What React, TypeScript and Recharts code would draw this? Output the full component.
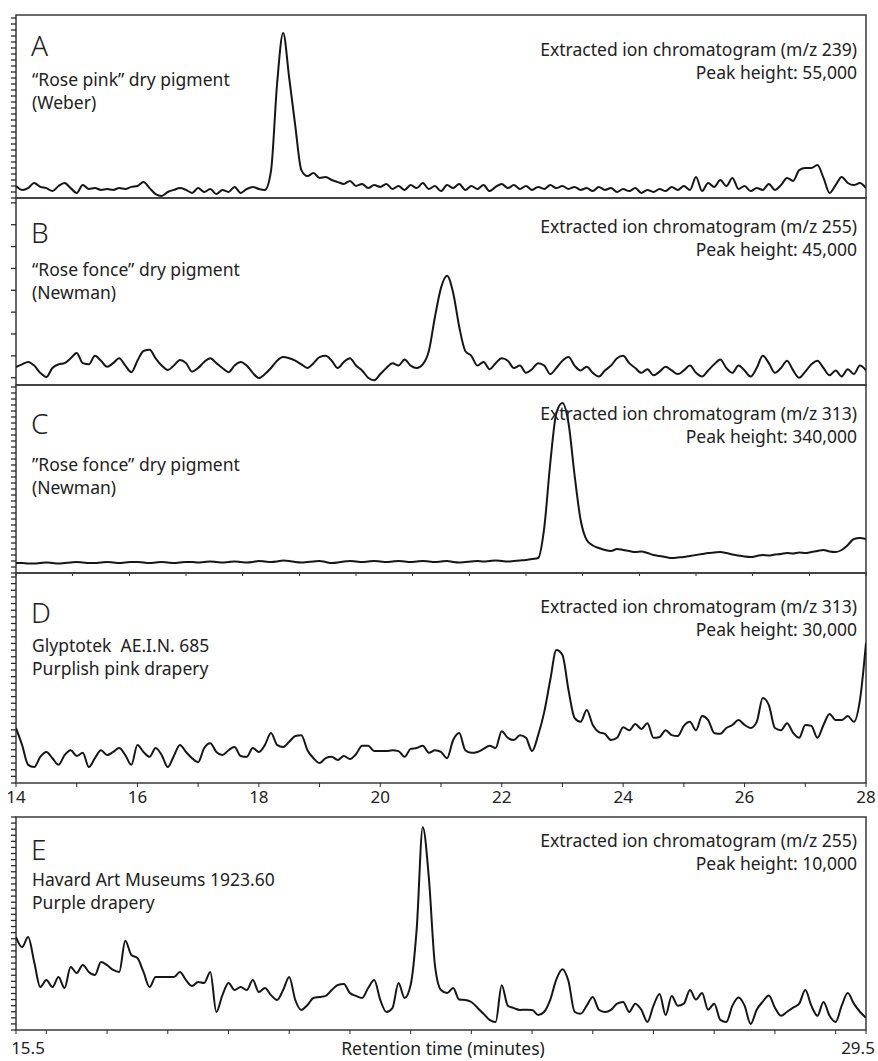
import React from 'react';
import { LineChart, Line, XAxis, YAxis, ReferenceArea } from 'recharts';

const FONT = '"Noto Sans", "Open Sans", sans-serif';
const INK = '#161616';
const FRAME = '#3a3a3a';
const TICK = '#2a2a2a';
const TEXT = '#222';
const NOTE_SIZE = 17.5;

// retention time grid, one sample every 0.1 min
const gridTimes = (start: number, n: number) =>
  Array.from({ length: n }, (_, i) => Math.round((start + i * 0.1) * 10) / 10);
const TIMES_AD = gridTimes(14, 141);
const TIMES_E = gridTimes(15.5, 141);

// intensities, thousands of counts
const SERIES_A = [
  4.0, 2.7, 3.3, 5.0, 3.7, 3.3, 2.3, 4.0, 5.0, 3.3,
  1.7, 4.3, 3.0, 3.3, 2.7, 3.0, 2.7, 3.3, 3.0, 3.7,
  4.0, 5.3, 3.3, 1.3, 0.7, 2.0, 2.7, 3.3, 2.7, 1.7,
  3.3, 2.0, 3.0, 1.3, 2.7, 2.0, 3.7, 1.7, 3.0, 3.7,
  3.0, 2.7, 9.0, 38, 55, 40, 24, 9.3, 7.3, 8.3,
  6.7, 7.0, 6.0, 5.3, 4.7, 5.7, 4.0, 4.7, 3.3, 4.3,
  3.7, 4.7, 3.0, 4.0, 2.7, 4.3, 3.3, 5.0, 3.0, 4.0,
  2.3, 4.3, 3.3, 4.7, 2.7, 4.0, 3.0, 4.3, 2.3, 3.7,
  4.7, 3.3, 4.3, 3.0, 4.0, 2.7, 3.7, 3.0, 4.3, 3.3,
  4.0, 3.0, 3.7, 2.7, 3.3, 2.3, 3.7, 2.7, 3.3, 2.0,
  3.0, 2.3, 3.3, 1.7, 2.7, 2.0, 3.0, 2.3, 3.7, 2.7,
  4.0, 2.7, 7.0, 2.3, 5.0, 3.7, 6.0, 4.0, 6.7, 3.0,
  4.0, 2.3, 3.3, 2.7, 4.7, 2.7, 4.3, 6.7, 5.7, 9.3,
  10, 10, 11, 6.7, 1.7, 4.3, 7.0, 5.0, 4.3, 5.0,
  3.3,
];

const SERIES_B = [
  7.4, 8.5, 9.5, 8, 5, 3.3, 7, 8.5, 9, 11,
  13.2, 9, 8.5, 12, 10, 7.5, 9, 11, 8, 5.3,
  10, 14, 14.5, 11, 8, 6.2, 8, 10.3, 9, 5.5,
  7, 9.5, 11, 9, 7, 5.3, 8, 9.5, 8, 5,
  2.9, 4.5, 7, 10, 11.5, 11, 10, 8.5, 7, 9,
  11.5, 12, 10, 7, 9.5, 11, 8, 6, 3, 2,
  4.5, 7, 9, 8, 10.5, 8, 7, 8.5, 14, 28,
  40, 45, 38, 24, 14, 12, 8, 9.5, 6.5, 9,
  11, 10, 7, 8, 5, 6.5, 9, 8, 4.5, 7,
  10, 11.5, 8, 6, 7.5, 5, 3.5, 6, 8, 11,
  12, 9, 7, 5, 6.5, 4, 5.5, 7.5, 6, 4.5,
  6, 8, 5, 3.5, 6, 8.5, 10.5, 7, 5, 8,
  6, 3.5, 7, 12, 9, 5, 7, 10, 6, 3,
  5.5, 8.5, 10, 7, 4, 6, 3.5, 6.5, 4.5, 8,
  6,
];

const SERIES_C = [
  20, 20, 19, 19, 20, 21, 20, 19, 20, 21,
  22, 21, 20, 20, 21, 22, 21, 20, 21, 22,
  22, 21, 20, 21, 22, 21, 20, 21, 22, 22,
  21, 22, 23, 22, 21, 22, 23, 22, 21, 22,
  24, 23, 22, 23, 25, 24, 22, 21, 22, 23,
  24, 22, 20, 21, 23, 24, 23, 22, 23, 24,
  23, 22, 23, 24, 23, 22, 23, 24, 23, 22,
  23, 24, 22, 21, 22, 23, 24, 23, 24, 25,
  24, 23, 24, 25, 26, 28, 30, 90, 220, 320,
  340, 300, 196, 106, 66, 55, 50, 46, 44, 48,
  46, 44, 42, 43, 40, 36, 34, 32, 30, 31,
  32, 34, 36, 38, 40, 41, 42, 40, 37, 35,
  33, 32, 34, 36, 35, 37, 38, 40, 39, 41,
  40, 42, 44, 46, 43, 42, 46, 56, 68, 70,
  68,
];

const SERIES_D = [
  12.4, 8.6, 4.1, 3.6, 5.9, 7.0, 5.6, 4.1, 6.3, 7.4,
  6.1, 6.8, 3.6, 5.6, 7.4, 6.3, 7.0, 7.9, 6.3, 4.1,
  8.6, 7.0, 5.9, 7.9, 6.3, 3.6, 6.1, 8.6, 7.0, 5.6,
  4.7, 7.9, 9.0, 7.0, 6.3, 7.4, 8.1, 6.1, 5.9, 7.9,
  7.0, 8.6, 11.3, 8.6, 8.1, 9.3, 10.6, 10.8, 7.4, 5.6,
  4.5, 5.6, 5.9, 5.2, 6.1, 5.4, 6.5, 8.4, 8.4, 7.2,
  7.2, 7.2, 7.4, 7.2, 5.9, 7.7, 7.9, 8.4, 6.8, 7.4,
  7.0, 5.6, 9.7, 11.3, 7.4, 6.8, 7.0, 7.7, 8.4, 7.9,
  11.7, 10.2, 9.7, 10.8, 10.2, 7.2, 10.8, 16.0, 23.3, 30.0,
  28.9, 21.0, 14.7, 13.8, 16.5, 13.1, 11.5, 11.1, 9.7, 10.2,
  12.6, 11.9, 13.3, 12.2, 13.5, 10.2, 10.4, 11.9, 10.8, 10.6,
  12.9, 13.8, 11.9, 15.1, 14.2, 11.3, 11.1, 12.4, 13.1, 14.2,
  13.1, 12.4, 13.8, 19.2, 17.6, 12.4, 11.9, 13.5, 11.3, 10.2,
  13.1, 12.9, 10.2, 13.1, 15.6, 14.2, 14.2, 15.1, 13.8, 18.7,
  31.6,
];

const SERIES_E = [
  4.58, 4.09, 4.58, 3.35, 2.12, 2.46, 2.12, 2.61, 2.07, 3.1,
  2.81, 3.2, 2.86, 2.71, 3.35, 3.2, 2.96, 2.86, 4.4, 3.7,
  3.55, 2.86, 2.12, 2.61, 2.61, 2.61, 2.61, 2.86, 2.46, 2.17,
  2.37, 2.32, 2.86, 0.89, 1.72, 2.32, 1.97, 2.12, 1.97, 2.46,
  1.87, 2.07, 1.72, 1.48, 1.97, 2.61, 1.48, 0.99, 1.23, 1.58,
  1.63, 1.68, 1.97, 2.22, 2.27, 1.82, 1.68, 1.58, 2.07, 2.46,
  1.48, 0.89, 1.08, 2.32, 1.58, 2.22, 5.0, 10.0, 7.5, 3.2,
  1.97, 1.82, 2.07, 1.5, 1.48, 1.38, 1.1, 0.8, 0.5, 0.4,
  2.2, 1.2, 1.08, 0.99, 1.0, 0.99, 0.74, 0.9, 1.5, 2.5,
  3.0, 2.4, 0.9, 0.8, 1.2, 1.63, 1.0, 0.89, 0.99, 1.3,
  1.38, 0.89, 1.3, 1.0, 0.4, 1.2, 1.78, 0.74, 1.68, 1.2,
  1.3, 1.97, 1.5, 1.82, 1.0, 1.3, 0.5, 0.4, 1.2, 1.6,
  1.2, 0.3, 1.0, 1.4, 1.7, 1.1, 0.7, 0.9, 1.1, 1.3,
  1.97, 1.2, 0.7, 1.38, 0.7, 0.4, 1.2, 1.82, 1.3, 0.9,
  0.6,
];

// minor ticks on the intensity axes (no labels)
const A_Y_TICKS = [0, 2, 4, 6, 8, 10, 12, 14, 16, 18, 20, 22, 24, 26, 28, 30, 32, 34, 36, 38, 40, 42, 44, 46, 48, 50, 52, 54, 56, 58, 60];
const B_Y_TICKS = [3, 12, 21, 30, 39, 48, 57, 66, 75];
const C_Y_TICKS = [0, 12, 24, 36, 48, 60, 72, 84, 96, 108, 120, 132, 144, 156, 168, 180, 192, 204, 216, 228, 240, 252, 264, 276, 288, 300, 312, 324, 336, 348, 360, 372];
const D_Y_TICKS = [0, 1.5, 3, 4.5, 6, 7.5, 9, 10.5, 12, 13.5, 15, 16.5, 18, 19.5, 21, 22.5, 24, 25.5, 27, 28.5, 30, 31.5, 33, 34.5, 36, 37.5, 39, 40.5, 42, 43.5, 45, 46.5];
const E_Y_TICKS = [0, 0.3, 0.6, 0.9, 1.2, 1.5, 1.8, 2.1, 2.4, 2.7, 3, 3.3, 3.6, 3.9, 4.2, 4.5, 4.8, 5.1, 5.4, 5.7, 6, 6.3, 6.6, 6.9, 7.2, 7.5, 7.8, 8.1, 8.4, 8.7, 9, 9.3, 9.6, 9.9, 10.2, 10.5];

// time axis ticks
const C_X_TICKS = [14, 14.93, 15.87, 16.8, 17.73, 18.67, 19.6, 20.53, 21.47, 22.4, 23.33, 24.27, 25.2, 26.13, 27.07, 28];
const D_X_TICKS = [14, 15, 16, 17, 18, 19, 20, 21, 22, 23, 24, 25, 26, 27, 28];
const E_X_TICKS = [15.5, 16, 17, 18, 19, 20, 21, 22, 23, 24, 25, 26, 27, 28, 29, 29.5];
const E_X_LABELS = ['15.5', '29.5'];

const blank = () => '';

type Variant = 'plain' | 'inner' | 'labels' | 'ends';

const EndTick = (props: any) => {
  const { x, y, payload } = props;
  const label = E_X_LABELS.find((l) => Number(l) === payload.value);
  if (!label) return null;
  const dx = payload.value === 15.5 ? 12 : -8;
  return (
    <text x={x + dx} y={y + 11} textAnchor="middle" dominantBaseline="central" fontSize={17} fill={TEXT} fontFamily={FONT}>
      {label}
    </text>
  );
};

const renderXAxis = (variant: Variant, domain: [number, number]) => {
  const common = { dataKey: 't', type: 'number' as const, domain, allowDataOverflow: true, height: 40 };
  if (variant === 'plain') return <XAxis {...common} tick={false} tickLine={false} axisLine={false} />;
  if (variant === 'inner')
    return (
      <XAxis
        {...common}
        ticks={C_X_TICKS}
        interval={0}
        tickFormatter={blank}
        tick={{ fontSize: 1 }}
        tickSize={3}
        axisLine={false}
        tickLine={{ stroke: TICK }}
      />
    );
  if (variant === 'labels')
    return (
      <XAxis
        {...common}
        ticks={D_X_TICKS}
        interval={0}
        tickSize={4}
        tickMargin={4}
        axisLine={false}
        tickLine={{ stroke: TICK }}
        tickFormatter={(v: number) => (v % 2 === 0 ? String(v) : '')}
        tick={{ fontSize: 17, fill: TEXT, fontFamily: FONT }}
      />
    );
  return <XAxis {...common} ticks={E_X_TICKS} interval={0} tickSize={4} axisLine={false} tickLine={{ stroke: TICK }} tick={<EndTick />} />;
};

type PanelProps = {
  top: number;
  plotH: number;
  times: number[];
  values: number[];
  yMax: number;
  yTicks: number[];
  xDomain: [number, number];
  variant: Variant;
};

const Panel = ({ top, plotH, times, values, yMax, yTicks, xDomain, variant }: PanelProps) => {
  const data = times.map((t, i) => ({ t, v: values[i] }));
  return (
    <div style={{ position: 'absolute', left: 0, top: top - 10 }}>
      <LineChart width={878} height={plotH + 50} data={data} margin={{ top: 10, right: 12, bottom: 0, left: 11 }}>
        {renderXAxis(variant, xDomain)}
        <YAxis
          type="number"
          domain={[0, yMax]}
          allowDataOverflow
          width={5}
          ticks={yTicks}
          interval={0}
          tickFormatter={blank}
          tick={{ fontSize: 1 }}
          tickSize={5}
          axisLine={false}
          tickLine={{ stroke: TICK, strokeWidth: 1.3 }}
        />
        <ReferenceArea x1={xDomain[0]} x2={xDomain[1]} y1={0} y2={yMax} fill="none" fillOpacity={0} stroke={FRAME} strokeWidth={1.5} />
        <Line dataKey="v" type="monotone" stroke={INK} strokeWidth={2} dot={false} isAnimationActive={false} />
      </LineChart>
    </div>
  );
};

type NoteProps = { letter: string; lines: string[]; mz: string; peak: string; yLetter: number; yLines: number[]; yRight: number[] };

const Notes = ({ letter, lines, mz, peak, yLetter, yLines, yRight }: NoteProps) => (
  <g fill={TEXT} fontFamily={FONT}>
    <text x={31} y={yLetter} fontSize={28} fontWeight={300} dominantBaseline="central">{letter}</text>
    {lines.map((l, i) => (
      <text key={i} x={32} y={yLines[i]} fontSize={NOTE_SIZE} dominantBaseline="central" style={{ whiteSpace: 'pre' }}>{l}</text>
    ))}
    <text x={857} y={yRight[0]} fontSize={NOTE_SIZE} textAnchor="end" dominantBaseline="central">{`Extracted ion chromatogram (m/z ${mz})`}</text>
    <text x={857} y={yRight[1]} fontSize={NOTE_SIZE} textAnchor="end" dominantBaseline="central">{`Peak height: ${peak}`}</text>
  </g>
);

const App: React.FC = () => (
  <div style={{ position: 'absolute', left: 0, top: 0, width: 878, height: 1061, background: '#fff', fontFamily: FONT }}>
    <Panel top={15} plotH={183} times={TIMES_AD} values={SERIES_A} yMax={61} yTicks={A_Y_TICKS} xDomain={[14, 28]} variant="plain" />
    <Panel top={198} plotH={187} times={TIMES_AD} values={SERIES_B} yMax={77} yTicks={B_Y_TICKS} xDomain={[14, 28]} variant="plain" />
    <Panel top={385} plotH={188} times={TIMES_AD} values={SERIES_C} yMax={376} yTicks={C_Y_TICKS} xDomain={[14, 28]} variant="inner" />
    <Panel top={573} plotH={210} times={TIMES_AD} values={SERIES_D} yMax={47.4} yTicks={D_Y_TICKS} xDomain={[14, 28]} variant="labels" />
    <Panel top={817} plotH={213} times={TIMES_E} values={SERIES_E} yMax={10.5} yTicks={E_Y_TICKS} xDomain={[15.5, 29.5]} variant="ends" />

    <svg width={878} height={1061} style={{ position: 'absolute', left: 0, top: 0, pointerEvents: 'none' }}>
      <Notes letter="A" lines={['“Rose pink” dry pigment', '(Weber)']} mz="239" peak="55,000" yLetter={45} yLines={[79, 102]} yRight={[49, 72]} />
      <Notes letter="B" lines={['“Rose fonce” dry pigment', '(Newman)']} mz="255" peak="45,000" yLetter={232} yLines={[269, 292]} yRight={[226, 249]} />
      <Notes letter="C" lines={['”Rose fonce” dry pigment', '(Newman)']} mz="313" peak="340,000" yLetter={423} yLines={[464, 487]} yRight={[413, 436]} />
      <Notes letter="D" lines={['Glyptotek  AE.I.N. 685', 'Purplish pink drapery']} mz="313" peak="30,000" yLetter={612} yLines={[645, 668]} yRight={[606, 629]} />
      <Notes letter="E" lines={['Havard Art Museums 1923.60', 'Purple drapery']} mz="255" peak="10,000" yLetter={849} yLines={[879, 902]} yRight={[840, 863]} />
      <text x={443} y={1048} fontSize={NOTE_SIZE} textAnchor="middle" dominantBaseline="central" fill={TEXT} fontFamily={FONT}>
        Retention time (minutes)
      </text>
    </svg>
  </div>
);

export default App;
